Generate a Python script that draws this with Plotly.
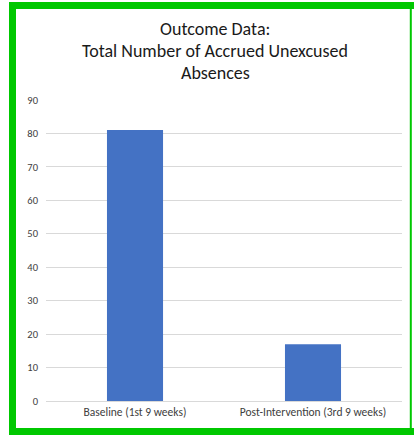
import plotly.graph_objects as go

categories = ["Baseline (1st 9 weeks)", "Post-Intervention (3rd 9 weeks)"]
values = [81, 17]
y_ticks = [0, 10, 20, 30, 40, 50, 60, 70, 80, 90]
title_lines = ["Outcome Data:", "Total Number of Accrued Unexcused", "Absences"]

W, H = 414, 435
L, R, T, B = 46, 12, 100, 34
pw, ph = W - L - R, H - T - B

def px(x):
    return (x - L) / pw

def py(y):
    return (H - B - y) / ph

FONT = "Calibri, Carlito, Lato, sans-serif"

fig = go.Figure()
fig.add_trace(go.Bar(x=categories, y=values, marker=dict(color="#4472C4", line=dict(width=0)),
                     width=0.315))

title_y = [29, 51, 73]
annotations = [
    dict(text=t, xref="paper", yref="paper", x=px(215), y=py(yy), xanchor="center",
         yanchor="middle", showarrow=False,
         font=dict(family=FONT, size=18, color="#1a1a1a"))
    for t, yy in zip(title_lines, title_y)
]

fig.update_layout(
    width=W, height=H,
    margin=dict(l=L, r=R, t=T, b=B),
    paper_bgcolor="white", plot_bgcolor="white",
    showlegend=False,
    font=dict(family=FONT, color="#404040"),
    annotations=annotations,
    xaxis=dict(showgrid=False, showline=True, linecolor="#d9d9d9", linewidth=1,
               ticks="", tickfont=dict(size=11.5, color="#404040"), fixedrange=True),
    yaxis=dict(range=[0, 90], tickvals=y_ticks, showgrid=True, gridcolor="#d9d9d9",
               gridwidth=1, zeroline=False, showline=False, ticks="",
               tickfont=dict(size=10.5, color="#404040"), ticklabelstandoff=7),
    shapes=[
        dict(type="path", xref="paper", yref="paper",
             path=f"M {px(416)},{py(5.5)} L {px(12.5)},{py(5.5)} L {px(12.5)},{py(431.5)} L {px(416)},{py(431.5)}",
             line=dict(color="#00C800", width=7)),
        dict(type="line", xref="paper", yref="paper",
             x0=px(410.8), x1=px(410.8), y0=py(2), y1=py(435),
             line=dict(color="#00C800", width=2)),
    ],
)

fig.write_html("out.html", config={"displayModeBar": False},
               post_script="document.body.style.margin='0';document.body.style.overflow='hidden';")
